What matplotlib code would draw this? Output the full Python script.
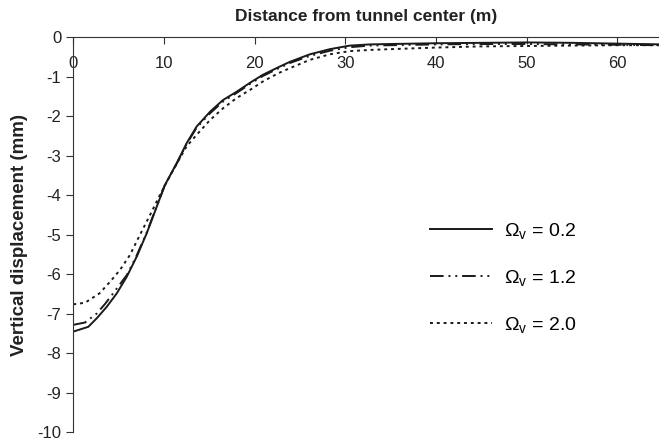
import numpy as np
import matplotlib
matplotlib.use('Agg')
import matplotlib.pyplot as plt

plt.rcParams['font.family'] = ['Liberation Sans', 'DejaVu Sans']
plt.rcParams['mathtext.fontset'] = 'custom'
plt.rcParams['mathtext.rm'] = 'Liberation Sans'
plt.rcParams['mathtext.it'] = 'Liberation Sans'
plt.rcParams['axes.unicode_minus'] = False

# vertical displacement (mm) vs distance from tunnel center (m)
x_02 = [0, 1.65, 2.6, 3.7, 4.8, 5.9, 7.0, 8.1, 9.2, 10.1, 11.4, 12.5, 13.6, 15.1, 16.5, 18.0, 19.5,
        20.9, 22.6, 23.9, 26.1, 28.3, 30.5, 32.7, 35, 40, 45, 50, 55, 60, 65]
y_02 = [-7.45, -7.33, -7.11, -6.82, -6.48, -6.06, -5.55, -4.96, -4.29, -3.74, -3.19, -2.68, -2.26,
        -1.88, -1.59, -1.38, -1.15, -0.95, -0.76, -0.62, -0.43, -0.30, -0.21, -0.18, -0.17, -0.15,
        -0.14, -0.13, -0.14, -0.16, -0.18]

x_12 = [0, 1.3, 2.6, 3.5, 4.4, 5.9, 7.0, 8.1, 9.2, 10.1, 11.4, 12.5, 13.6, 15.1, 16.5, 18.0, 19.5,
        20.9, 22.6, 23.9, 26.1, 28.3, 30.5, 32.7, 35, 40, 45, 50, 55, 60, 65]
y_12 = [-7.28, -7.22, -6.99, -6.75, -6.48, -6.02, -5.52, -4.94, -4.28, -3.74, -3.2, -2.7, -2.29,
        -1.92, -1.63, -1.41, -1.18, -0.98, -0.79, -0.65, -0.47, -0.34, -0.25, -0.21, -0.2, -0.18,
        -0.17, -0.17, -0.18, -0.19, -0.2]

x_20 = [0, 1.3, 2.9, 4.05, 5.15, 6.25, 7.35, 8.46, 9.56, 10.5, 11.6, 12.5, 13.6, 15.1, 16.5, 18.0,
        19.5, 20.9, 22.6, 23.9, 26.1, 28.3, 30.5, 32.7, 35, 40, 45, 50, 55, 60, 65]
y_20 = [-6.76, -6.72, -6.48, -6.19, -5.89, -5.51, -5.0, -4.5, -3.99, -3.58, -3.12, -2.76, -2.47,
        -2.09, -1.80, -1.54, -1.33, -1.12, -0.91, -0.78, -0.57, -0.43, -0.35, -0.32, -0.3, -0.26,
        -0.23, -0.22, -0.21, -0.2, -0.2]

labels = [r'$\Omega_\mathrm{v}$ = 0.2', r'$\Omega_\mathrm{v}$ = 1.2', r'$\Omega_\mathrm{v}$ = 2.0']

fig = plt.figure(figsize=(6.59, 4.41), dpi=100)
ax = fig.add_axes([73.3 / 659, 1 - 432.3 / 441, (659 - 73.3) / 659, (432.3 - 37.3) / 441])

col = '#1a1a1a'
ax.plot(x_02, y_02, color=col, linewidth=1.4, linestyle='-', label=labels[0])
ax.plot(x_12, y_12, color=col, linewidth=1.4, linestyle=(0, (7, 2.5, 1, 2.5, 1, 2.5)), label=labels[1])
ax.plot(x_20, y_20, color=col, linewidth=1.4, linestyle=(0, (1.5, 2.0)), label=labels[2])

ax.set_xlim(0, 64.6)
ax.set_ylim(-10, 0)
ax.set_xticks([0, 10, 20, 30, 40, 50, 60])
ax.set_yticks(np.arange(-10, 1, 1))

ax.spines['bottom'].set_visible(False)
ax.spines['right'].set_visible(False)
ax.spines['top'].set_color('#333333')
ax.spines['left'].set_color('#333333')

ax.xaxis.tick_top()
ax.tick_params(axis='x', direction='in', length=5, pad=-24, labelsize=12, colors='#333333')
ax.tick_params(axis='y', direction='out', length=5, labelsize=12, colors='#333333')
for t in ax.get_xticklabels() + ax.get_yticklabels():
    t.set_color('#222222')

ax.set_title('Distance from tunnel center (m)', fontsize=12.5, fontweight='bold', pad=12, color='#222222')
ax.set_ylabel('Vertical displacement (mm)', fontsize=13.5, fontweight='bold', color='#222222', labelpad=7)

ax.legend(loc='upper left', bbox_to_anchor=(0.609, 0.535), frameon=False, fontsize=14,
          handlelength=3.2, labelspacing=1.38, handletextpad=0.6, borderpad=0, borderaxespad=0)

fig.savefig('out.png', dpi=100)
